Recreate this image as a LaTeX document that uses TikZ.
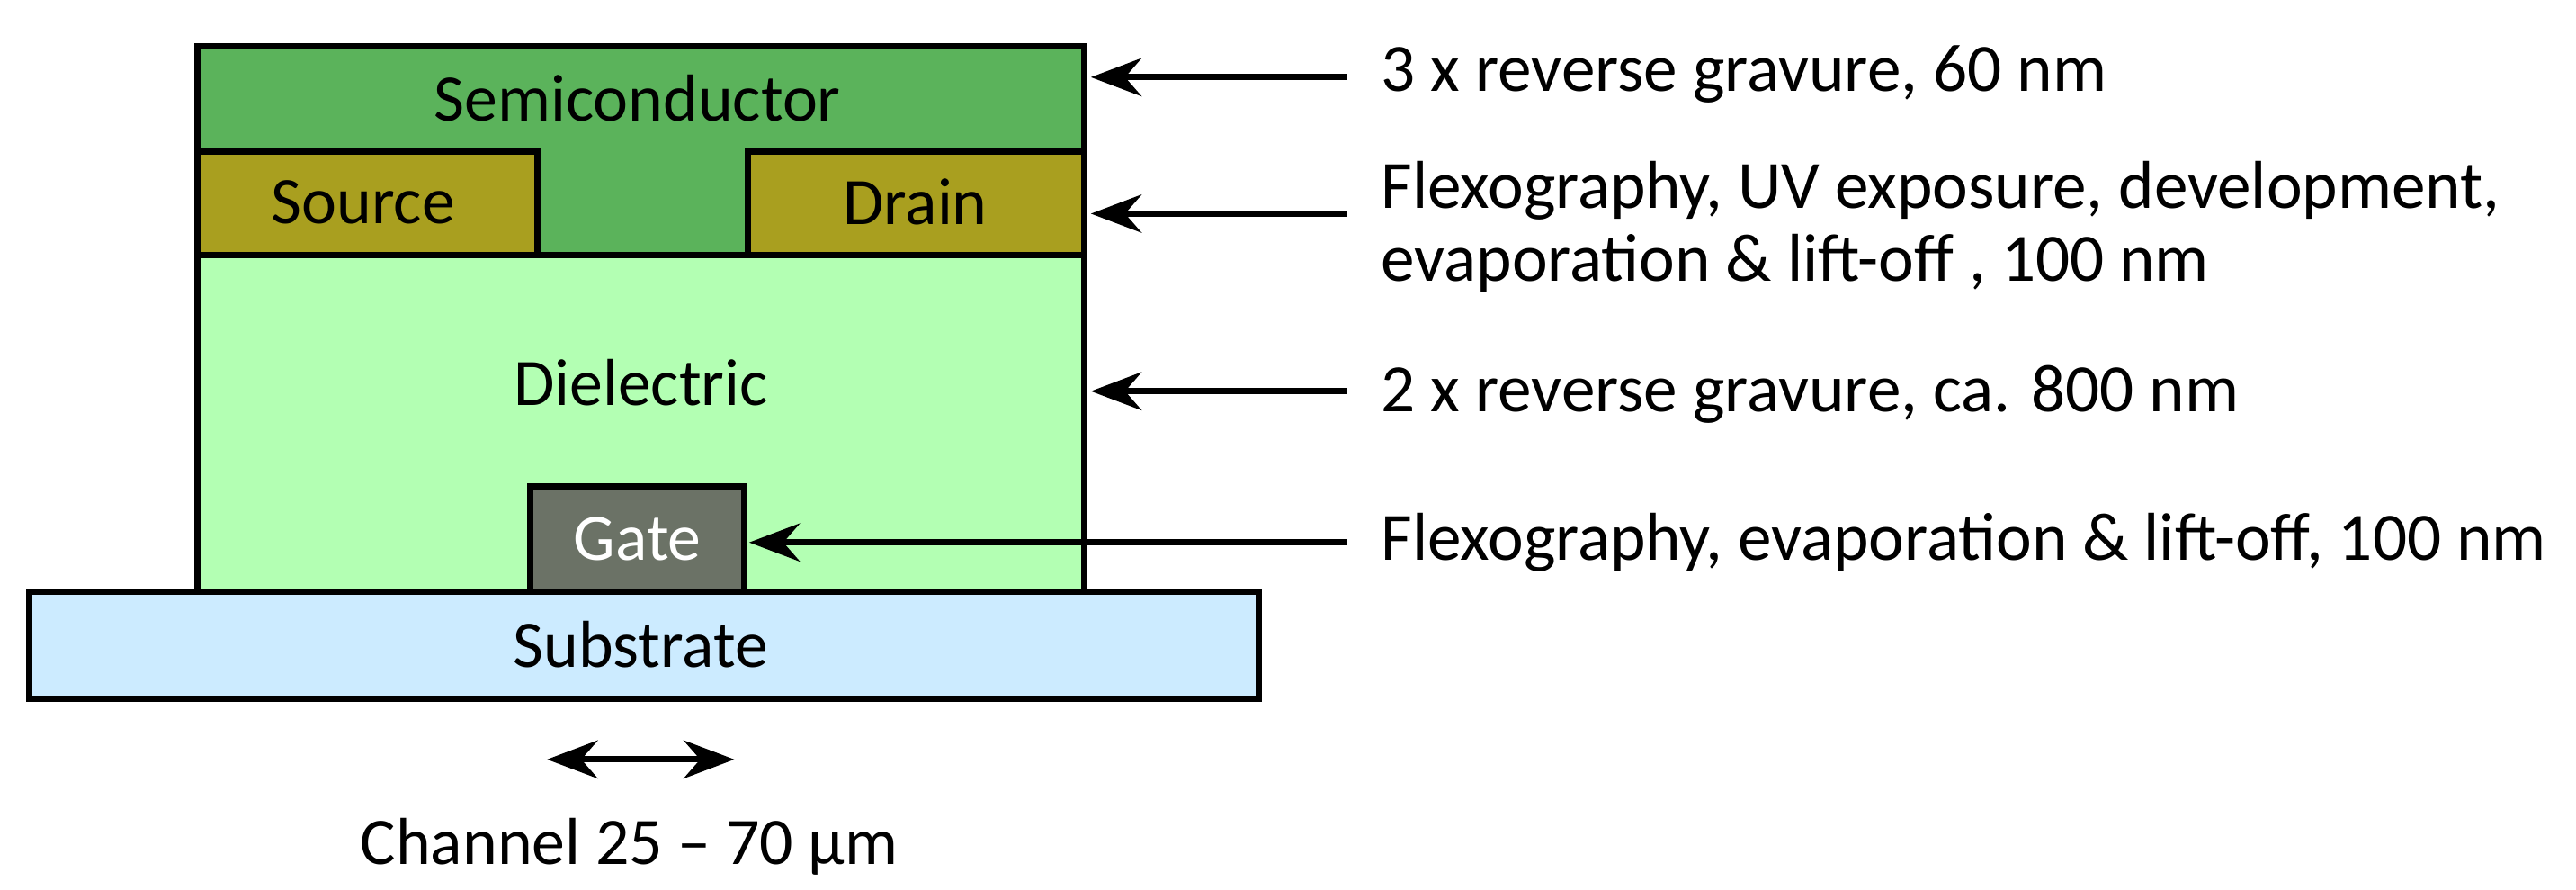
\documentclass[tikz,border=0pt]{standalone}
\usepackage{fontspec}
\setmainfont{Carlito}
\usetikzlibrary{arrows.meta}
\definecolor{semi}{HTML}{5BB35B}
\definecolor{sd}{HTML}{A99F1F}
\definecolor{diel}{HTML}{B3FFB3}
\definecolor{gate}{HTML}{6B7266}
\definecolor{sub}{HTML}{CCEBFF}
\begin{document}
\begin{tikzpicture}[x=0.01827cm,y=-0.01827cm,
  lay/.style={draw=black,line width=2pt},
  lbl/.style={font=\fontsize{21}{26}\selectfont},
  arr/.style={-{Stealth[length=16pt,width=12pt]},line width=2pt},
  note/.style={font=\fontsize{21.4}{23}\selectfont,anchor=west,align=left}]
\useasboundingbox (0,0) rectangle (1568,541);
\fill[white] (0,0) rectangle (1568,541);
% layers
\draw[lay,fill=diel] (120,155) rectangle (660,360);
\draw[lay,fill=semi] (120,28) -- (660,28) -- (660,92) -- (455,92) -- (455,155) -- (327,155) -- (327,92) -- (120,92) -- cycle;
\draw[lay,fill=sd] (120,92) rectangle (327,155);
\draw[lay,fill=sd] (455,92) rectangle (660,155);
\draw[lay,fill=gate] (323,296) rectangle (453,360);
\draw[lay,fill=sub] (18,360) rectangle (766,425);
\node[lbl] (semi) at (388,60) {Semiconductor};
\node[lbl] (src) at (221,123) {Source};
\node[lbl] (drn) at (557,123) {Drain};
\node[lbl] (diel) at (390,233) {Dielectric};
\node[lbl,text=white] (gt) at (388,328) {Gate};
\node[lbl] (subs) at (390,392) {Substrate};
% channel
\coordinate (cl) at (333,462);
\coordinate (cr) at (447,462);
\draw[{Stealth[length=16pt,width=12pt]}-{Stealth[length=16pt,width=12pt]},line width=2pt] (cl) -- (cr);
\node[lbl] (ch) at (383,515) {Channel 25 – 70 µm};
% notes
\node[note] (n1) at (834,45) {3 x reverse gravure, 60 nm};
\node[note] (n2) at (834,138) {Flexography, UV exposure, development,\\evaporation \& lift-off , 100 nm};
\node[note] (n3) at (834,240) {2 x reverse gravure, ca. 800 nm};
\node[note] (n4) at (834,330) {Flexography, evaporation \& lift-off, 100 nm};
\coordinate (a1) at (664,47);
\coordinate (a2) at (664,130);
\coordinate (a3) at (664,238);
\coordinate (a4) at (456,330);
\draw[arr] (820,47) -- (a1);
\draw[arr] (820,130) -- (a2);
\draw[arr] (820,238) -- (a3);
\draw[arr] (820,330) -- (a4);
\end{tikzpicture}
\end{document}
